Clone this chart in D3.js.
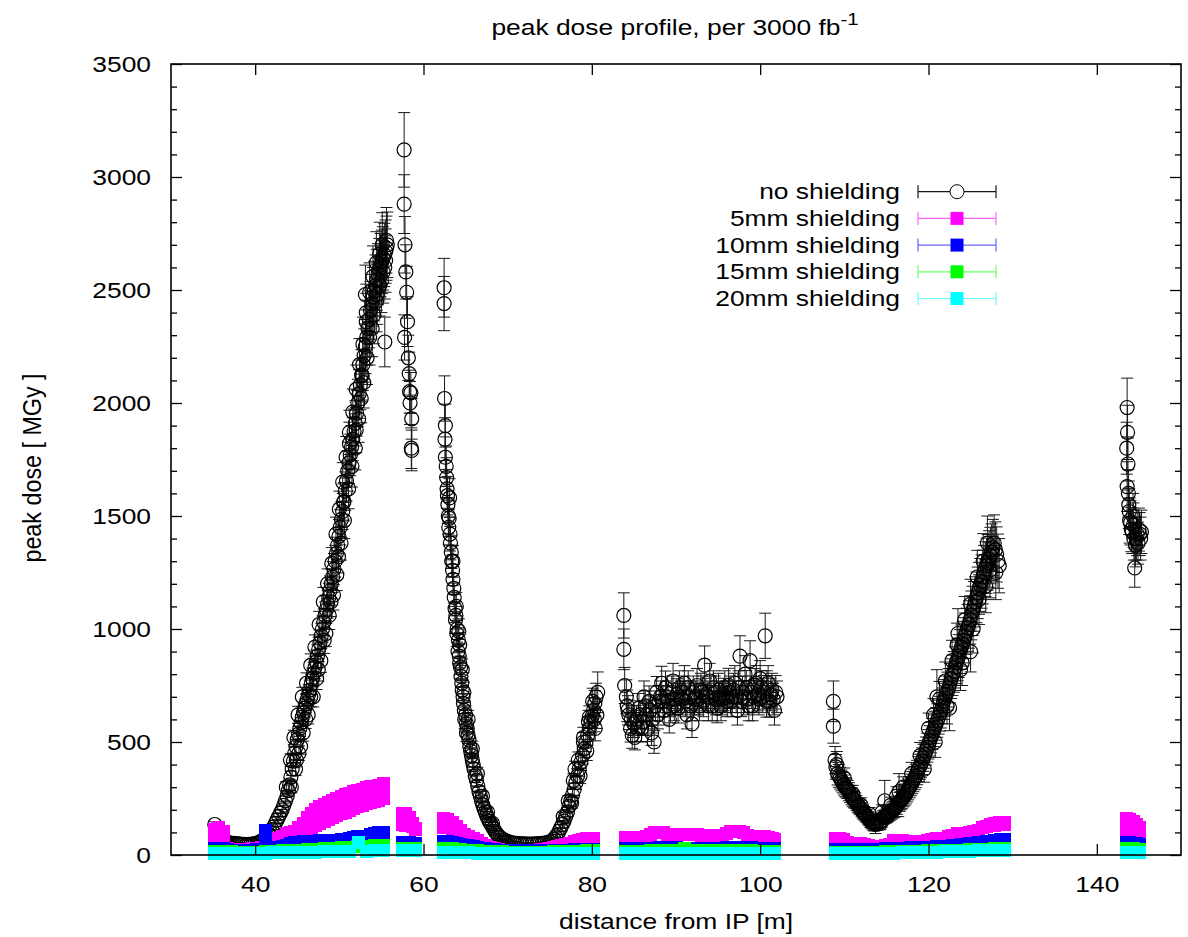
<!DOCTYPE html>
<html><head><meta charset="utf-8">
<script src="https://cdn.jsdelivr.net/npm/d3@7"></script>
<style>
body{margin:0;background:#fff;}
svg{display:block;}
text{font-family:"Liberation Sans",Arial,Helvetica,sans-serif;fill:#000;}
</style>
</head><body>
<svg id="c" width="1188" height="937"></svg>
<script>
// ---------------- data ----------------
const titleText = "peak dose profile, per 3000 fb";
const titleSup = "-1";
const xLabel = "distance from IP [m]";
const yLabel = "peak dose [ MGy ]";
const xTicks = [40, 60, 80, 100, 120, 140];
const yTicks = [0, 500, 1000, 1500, 2000, 2500, 3000, 3500];
const seriesNames = ["no shielding", "5mm shielding", "10mm shielding", "15mm shielding", "20mm shielding"];
const seriesColors = ["#000000", "#ff00ff", "#0000ff", "#00ff00", "#00ffff"];

// no shielding: [distance m, dose MGy, error]
const noShielding = [
[35.2,135,12],[35.6,100,8],[36,75,6],[36.4,62,5],[36.8,55,5],[37.2,52,4],[37.7,50,4],[38.2,48,4],[38.7,47,4],[39.2,47,4],[39.7,48,4],[40.2,52,5],[40.6,58,5],[41,68,6],[41.4,82,8],[41.8,100,10],[42.2,125,12],[42.6,155,14],[43,185,16],[43.4,220,18],[43.8,260,22],[44.1,310,25],[44.4,380,28],[44.7,450,30],[45,510,32],[45.3,560,35],[45.6,610,38],[45.9,650,40],[46.2,690,42],[46.5,730,44],[46.8,780,46],[47.1,830,50],[47.4,880,52],[47.7,940,55],[48,1000,58],[48.3,1060,60],[48.6,1110,62],[48.9,1170,65],[49.2,1230,68],[49.5,1300,70],[49.8,1370,72],[50.1,1450,78],[50.4,1520,80],[50.7,1610,85],[51,1700,90],[51.3,1770,92],[51.6,1840,95],[51.9,1910,100],[52.2,2000,105],[52.5,2080,110],[52.8,2170,115],[53.1,2250,120],[53.4,2330,125],[53.7,2410,128],[54,2470,130],[54.3,2520,135],[54.6,2570,135],[54.9,2610,140],[55.2,2640,140],[55.5,2670,140],[55.7,2700,145],
[44.9,420,30],[45.4,480,34],[46,600,40],[46.6,700,44],[47.5,820,50],[48.2,950,58],[49,1120,65],[49.9,1320,72],[50.5,1560,82],[51.2,1820,95],[52,1880,100],[52.7,2120,115],[53.1,2480,130],[53.2,2360,125],[53.9,2330,125],[54.4,2450,135],[55,2540,140],[55.4,2600,140],[55.6,2720,145],[55.4,2270,110],
[36.2,68,5],[36.6,58,5],[37,53,4],[37.45,51,4],[37.95,49,4],[38.45,47,4],[38.95,46,4],[39.45,47,4],[39.95,50,5],[40.4,55,5],[40.8,63,6],[41.2,75,7],[41.6,90,9],[42,112,11],[42.4,140,13],[42.8,170,15],[43.2,200,17],[43.6,240,20],[43.95,285,24],[44.25,345,26],[44.55,415,29],[44.85,480,31],[45.15,535,34],[45.45,585,36],[45.75,630,39],[46.05,670,41],[46.35,710,43],[46.65,755,45],[46.95,805,48],[47.25,855,51],[47.55,910,54],[47.85,970,56],[48.15,1030,59],[48.45,1085,61],[48.75,1140,63],[49.05,1200,66],[49.35,1265,69],[49.65,1335,71],[49.95,1410,75],[50.25,1485,79],[50.55,1565,83],[50.85,1655,88],[51.15,1735,91],[51.45,1805,94],[51.75,1875,98],[52.05,1955,102],[52.35,2040,108],[52.65,2125,112],[52.95,2210,118],[53.25,2290,122],[53.55,2370,126],[53.85,2440,129],[54.15,2495,132],[54.45,2545,135],[54.75,2590,138],[55.05,2625,140],[55.35,2655,140],[55.6,2685,142],
[44.3,300,25],[44.8,380,28],[45.2,450,32],[45.7,540,36],[46.3,620,40],[46.9,700,45],[47.3,780,48],[47.8,860,52],[48.4,980,58],[48.8,1060,62],[49.3,1150,66],[49.7,1240,70],[50.2,1380,75],[50.6,1480,80],[51.1,1620,88],[51.5,1720,92],[51.9,1800,96],[52.3,1930,104],[52.6,2020,108],[52.9,2090,112],[53.3,2200,118],[53.6,2290,122],[54.1,2390,128],[54.5,2480,132],[54.8,2520,135],[55.2,2580,138],[55.5,2630,140],
[43.7,300,25],[44.2,420,28],[44.6,520,32],[45.1,620,38],[45.6,700,42],[46.1,760,46],[46.6,840,50],[47.1,920,54],[47.6,1020,58],[48.1,1120,64],[48.6,1200,66],[49.1,1290,70],[49.6,1420,75],[50,1530,80],[50.4,1650,86],[50.8,1760,92],[51.2,1870,98],[51.6,1960,102],[52,2060,108],[52.4,2170,115],[52.8,2260,120],[53.2,2400,126],[53.6,2490,130],[54,2560,135],[54.4,2620,138],[54.8,2660,140],[55.1,2700,142],
[57.7,3120,165],[57.7,2880,130],[57.8,2700,125],[57.9,2580,120],[58.0,2490,115],[58.1,2360,110],[57.75,2290,100],[58.2,2200,100],[58.3,2130,95],[58.35,2050,95],[58.4,2000,95],[58.5,2045,90],[58.6,1930,90],[58.55,1800,90],[58.6,1790,90],
[62.45,2510,130],[62.45,2440,120],[62.5,2020,100],[62.55,1840,95],[62.6,1760,90],[62.75,1670,88],[62.85,1590,85],[62.95,1500,80],[63.05,1490,80],[63.15,1420,75],[63.3,1340,72],[63.45,1260,68],[63.6,1180,65],[63.75,1090,62],[63.85,1060,60],[64.0,1000,58],[64.15,950,55],[64.3,850,52],[64.4,830,50],[64.55,760,48],[64.7,700,45],[64.85,640,42],[65.0,620,40],[65.2,560,38],[65.4,510,36],[65.6,460,34],[65.8,420,32],[66.0,380,30],[66.3,330,28],[66.6,280,25],[66.9,240,22],[67.2,205,20],[67.5,175,18],[67.8,150,16],[68.1,130,14],[68.5,105,12],[68.9,85,10],[69.3,72,8],[69.8,62,7],[70.3,56,6],[70.8,52,6],[71.4,50,6],[72,49,6],[72.6,48,6],[73.2,49,6],[73.8,50,6],[74.4,53,7],[75,58,8],[75.5,70,10],[75.9,90,12],[76.3,120,15],[76.7,150,18],[77.1,190,20],[77.5,240,24],[77.9,290,28],[78.3,350,32],[78.7,410,36],[79.1,470,40],[79.5,530,45],[79.9,590,50],[80.2,640,55],[80.5,700,60],[80.7,720,90],
[63.1,1580,85],[64.2,990,55],[64.6,820,48],[65.1,540,38],[78.0,380,35],[79.0,520,45],[79.7,610,50],[80.4,560,55],[80.6,620,60],
[62.6,1900,95],[62.7,1720,90],[62.8,1620,86],[62.9,1550,82],[63.0,1450,78],[63.2,1380,74],[63.35,1300,70],[63.5,1220,66],[63.65,1140,63],[63.8,1040,60],[63.95,980,57],[64.1,900,54],[64.25,880,52],[64.45,790,49],[64.6,730,46],[64.75,670,44],[64.9,600,41],[65.1,580,39],[65.3,530,37],[65.5,480,35],[65.7,440,33],[65.9,400,31],[66.15,350,29],[66.45,305,26],[66.75,260,23],[67.05,222,21],[67.35,190,19],[67.65,162,17],[67.95,140,15],[68.3,118,13],[68.7,95,11],[69.1,78,9],[69.55,67,7],[70.05,59,6],[70.55,54,6],[71.1,51,6],[71.7,49,6],[72.3,48,6],[72.9,48,6],[73.5,49,6],[74.1,51,6],[74.7,55,7],[75.25,63,9],[75.7,80,11],[76.1,105,13],[76.5,135,16],[76.9,170,19],[77.3,215,22],[77.7,265,26],[78.1,320,30],[78.5,380,34],[78.9,440,38],[79.3,500,42],[79.7,560,48],[80.05,615,52],[80.35,670,58],
[63.5,1300,70],[63.9,1100,62],[64.3,930,54],[64.8,720,45],[65.3,600,40],[65.8,470,34],[66.4,360,28],[67,260,22],[67.6,190,18],[68.2,140,14],[76.6,170,18],[77.2,240,22],[77.8,330,30],[78.4,420,36],[79,500,42],[79.6,590,50],[80.1,680,58],[80.3,600,55],[79.4,460,42],[78.6,350,34],[77.6,230,24],
[83.8,1060,100],[83.8,910,90],[83.9,750,80],[84.1,700,75],[84.2,660,70],[84.4,620,65],[84.6,560,60],[84.8,530,58],[85,580,60],[85.3,600,62],[85.6,650,65],[85.9,560,60],[86.2,700,70],[86.5,620,62],[86.8,680,68],[87.1,540,55],[87.4,500,50],[87.7,720,70],[88,680,70],[88.3,760,75],[88.6,640,65],[88.9,700,70],[89.2,600,60],[89.5,720,72],[89.8,660,66],[90.1,710,70],[90.4,740,75],[90.7,690,70],[91,760,78],[91.3,620,62],[91.6,700,70],[91.9,580,60],[92.2,690,70],[92.5,750,75],[92.8,660,66],[93.1,720,72],[93.4,840,85],[93.7,700,70],[94,770,78],[94.3,660,66],[94.6,720,72],[94.9,650,65],[95.2,700,70],[95.5,690,70],[95.8,740,75],[96.1,680,68],[96.4,720,72],[96.7,700,70],[97,760,78],[97.3,640,65],[97.6,880,90],[97.9,720,72],[98.2,800,82],[98.5,690,70],[98.8,860,88],[99.1,660,66],[99.4,750,75],[99.7,710,72],[100,780,80],[100.3,700,70],[100.6,970,100],[100.8,740,75],[101.1,680,70],[101.4,730,74],[101.7,640,65],[102,700,70],
[84.3,640,65],[84.7,600,60],[85.1,520,55],[85.45,560,58],[85.75,620,62],[86.05,590,60],[86.35,660,66],[86.65,560,58],[86.95,640,64],[87.25,600,60],[87.55,660,66],[87.85,620,62],[88.15,700,70],[88.45,680,68],[88.75,740,74],[89.05,680,68],[89.35,650,65],[89.65,770,78],[89.95,690,70],[90.25,650,66],[90.55,700,70],[90.85,720,72],[91.15,680,68],[91.45,740,75],[91.75,660,66],[92.05,720,72],[92.35,700,70],[92.65,690,70],[92.95,730,74],[93.25,680,68],[93.55,710,72],[93.85,660,66],[94.15,720,72],[94.45,740,75],[94.75,690,70],[95.05,730,74],[95.35,660,66],[95.65,710,72],[95.95,700,70],[96.25,750,76],[96.55,680,68],[96.85,730,74],[97.15,700,70],[97.45,740,75],[97.75,680,68],[98.05,700,70],[98.35,740,76],[98.65,660,66],[98.95,720,72],[99.25,700,70],[99.55,760,78],[99.85,690,70],[100.15,740,76],[100.45,720,74],[100.75,680,70],[100.95,760,78],[101.25,710,72],[101.55,690,70],[101.85,720,74],
[108.7,680,90],[108.7,570,75],[108.9,420,60],[109.0,390,55],[109.2,360,50],[109.5,340,48],[109.8,320,45],[110.1,300,42],[110.4,290,40],[110.7,270,38],[111,250,36],[111.3,240,35],[111.6,220,33],[111.9,210,32],[112.2,190,30],[112.5,180,30],[112.8,165,28],[113.1,150,28],[113.4,140,30],[113.7,135,40],[114,150,30],[114.3,140,28],[114.6,165,30],[114.9,170,30],[115.2,180,32],[115.5,190,34],[115.8,200,36],[116.1,210,40],[116.4,230,60],[116.7,240,40],[117,255,42],[117.3,270,44],[117.6,290,46],[117.9,310,48],[118.2,330,50],[118.5,350,52],[118.8,380,55],[119.1,400,58],[119.4,430,60],[119.7,460,62],[120,490,65],[120.3,520,68],[120.6,550,70],[120.9,580,72],[121.2,610,75],[121.5,640,78],[121.8,680,80],[122.1,710,82],[122.4,740,85],[122.7,780,88],[123,810,90],[123.3,850,92],[123.6,880,95],[123.9,920,98],[124.2,950,100],[124.5,990,102],[124.8,1020,105],[125.1,1060,108],[125.4,1100,110],[125.7,1140,112],[126,1180,115],[126.3,1210,118],[126.6,1250,120],[126.9,1280,122],[127.2,1310,125],[127.5,1340,125],[127.8,1380,125],[128.1,1330,122],[128.4,1280,120],
[114.8,240,90],[116.5,280,80],[121.0,700,120],[122.5,650,100],[123.5,980,110],[124.0,850,100],[125.0,900,90],[126.0,1130,110],[127.0,1380,120],
[109.1,400,58],[109.35,350,50],[109.65,330,46],[109.95,310,44],[110.25,295,42],[110.55,280,40],[110.85,260,38],[111.15,245,36],[111.45,230,34],[111.75,215,33],[112.05,200,31],[112.35,185,30],[112.65,172,29],[112.95,158,28],[113.25,145,29],[113.55,138,32],[113.85,142,30],[114.15,145,29],[114.45,152,29],[114.75,168,30],[115.05,175,31],[115.35,185,33],[115.65,195,35],[115.95,205,38],[116.25,220,40],[116.55,235,42],[116.85,248,43],[117.15,262,44],[117.45,280,45],[117.75,300,47],[118.05,320,49],[118.35,340,51],[118.65,365,54],[118.95,390,56],[119.25,415,59],[119.55,445,61],[119.85,475,64],[120.15,505,67],[120.45,535,69],[120.75,565,71],[121.05,595,74],[121.35,625,77],[121.65,660,79],[121.95,695,81],[122.25,725,84],[122.55,760,87],[122.85,795,89],[123.15,830,91],[123.45,865,94],[123.75,900,97],[124.05,935,99],[124.35,970,101],[124.65,1005,104],[124.95,1040,107],[125.25,1080,109],[125.55,1120,111],[125.85,1160,114],[126.15,1195,117],[126.45,1230,119],[126.75,1265,121],[127.05,1295,123],[127.35,1325,125],[127.65,1360,125],[127.95,1350,124],[128.25,1300,120],
[110,340,45],[111,270,38],[112,220,33],[113,180,30],[114.5,190,32],[115.5,220,36],[116.2,260,42],[117,300,46],[118,360,50],[119,440,58],[120,560,68],[120.6,620,72],[121.3,690,78],[122,770,84],[122.8,860,90],[123.4,930,96],[124.3,1040,104],[125,1110,110],[125.8,1230,118],[126.5,1300,122],[127.3,1260,122],[128,1250,120],[119.5,380,58],[120.8,500,68],[122.2,660,80],[123.8,820,92],[125.3,1000,106],[126.8,1190,118],
[143.6,1980,130],[143.65,1870,120],[143.7,1730,115],[143.6,1630,110],[143.8,1550,105],[143.9,1480,100],[144.1,1440,98],[144.3,1500,100],[144.4,1400,95],[144.6,1370,95],[144.5,1270,85],[144.8,1420,95],[145.0,1440,95],[145.2,1400,95],
[143.55,1800,115],[143.75,1600,105],[143.85,1520,102],[144.0,1470,98],[144.2,1430,96],[144.35,1460,98],[144.7,1400,95],[144.9,1380,93],[145.1,1420,95],[145.3,1430,96]
];

// 5mm shielding: [distance, dose, error]
const shield5 = [
[35.2,100,15],[35.7,105,15],[36.2,95,10],[36.7,30],[37.2,26],[37.7,25],[38.2,25],[38.7,25],[39.2,25],[39.7,27],[40.2,29],[40.7,34],[41.2,44],[41.7,58],[42.2,68],[42.7,75],[43.2,84],[43.7,94],[44.2,100],[44.7,106],[45.2,114,8],[45.7,126,14],[46.2,140,24],[46.7,152,30],[47.2,165,36],[47.7,176,38],[48.2,186,38],[48.7,195,38],[49.2,203,38],[49.7,212,38],[50.2,220,38],[50.7,228,38],[51.2,236,38],[51.7,242,37],[52.2,250,36],[52.7,256,35],[53.2,262,35],[53.7,267,35],[54.2,271,34],[54.7,276,33],[55.2,284,33],
[57.5,160,25],[57.9,157,25],[58.3,148,18],[58.7,132,8],[59.05,116,2],
[62.4,140,20],[62.9,138,18],[63.4,130,15],[63.9,118,10],[64.4,104,5],[64.9,92],[65.4,82],[65.9,72],[66.4,62],[66.9,52],[67.4,43],[67.9,35],[68.4,29],[68.9,25],[69.4,22],[69.9,21],[70.4,20],[70.9,20],[71.4,20],[71.9,20],[72.4,20],[72.9,21],[73.4,22],[73.9,24],[74.4,26],[74.9,29],[75.4,33],[75.9,37],[76.4,42],[76.9,47],[77.4,53],[77.9,60],[78.4,66],[78.9,70],[79.4,72],[79.9,72],[80.2,72],
[84.0,77],[84.5,77],[85,78],[85.5,78],[86,78],[86.5,82],[87,90],[87.5,99],[88,99],[88.5,98],[89,92],[89.5,91],[90,91],[90.5,90],[91,91],[91.5,90],[92,90],[92.5,89],[93,88],[93.5,88],[94,87],[94.5,87],[95,86],[95.5,88],[96,96],[96.5,104],[97,104],[97.5,103],[98,98],[98.5,88],[99,84],[99.5,82],[100,80],[100.5,80],[101,77],[101.5,73],[101.7,70],
[108.9,73],[109.4,73],[109.9,70],[110.4,55],[110.9,52],[111.4,51],[111.9,50],[112.4,48],[112.9,42],[113.4,37],[113.9,37],[114.4,38],[114.9,40],[115.4,48],[115.9,62],[116.4,64],[116.9,63],[117.4,60],[117.9,58],[118.4,58],[118.9,59],[119.4,60],[119.9,63],[120.4,68],[120.9,72],[121.4,73],[121.9,75],[122.4,80],[122.9,88],[123.4,93],[123.9,95],[124.4,97],[124.9,98],[125.4,102],[125.9,110],[126.4,120],[126.9,127],[127.4,132,3],[127.9,136,5],[128.4,140,5],[129.0,138,5],
[143.5,137,25],[143.9,135,23],[144.3,128,19],[144.7,120,14],[145.05,113,9]
];

// 10mm shielding
const shield10 = [
[35.2,30],[35.7,30],[36.2,28],[36.7,25],[37.2,22],[37.7,20],[38.2,20],[38.7,20],[39.2,20],[39.7,21],[40.2,23],[40.7,26],[41.2,60,50],[41.7,30],[42.2,33],[42.7,35],[43.2,38],[43.7,43],[44.2,49],[44.7,54],[45.2,56],[45.7,58],[46.2,59],[46.7,60],[47.2,61],[47.7,62],[48.2,63],[48.7,64],[49.2,65],[49.7,66],[50.2,67],[50.7,70],[51.2,75],[51.7,79],[52.2,80],[52.7,81],[53.2,80],[53.7,90],[54.2,97],[54.7,99],[55.2,98],
[57.5,55],[57.9,55],[58.3,55],[58.7,53],[59.05,52],
[62.4,60],[62.9,59],[63.4,56],[63.9,52],[64.4,48],[64.9,44],[65.4,40],[65.9,36],[66.4,33],[66.9,30],[67.4,28],[67.9,26],[68.4,24],[68.9,22],[69.4,21],[69.9,20],[70.9,19],[71.9,18],[72.9,18],[73.9,19],[74.9,20],[75.9,21],[76.9,22],[77.9,24],[78.9,25],[79.9,25],[80.2,25],
[84.0,29],[85,29],[86,30],[87,30],[88,31],[89,31],[90,31],[91,30],[92,30],[93,30],[94,30],[95,30],[96,31],[97,32],[98,31],[99,31],[100,30],[101,29],[101.7,29],
[108.9,24],[109.9,24],[110.9,24],[111.9,25],[112.9,25],[113.9,26],[114.9,27],[115.9,28],[116.9,30],[117.9,31],[118.9,33],[119.9,35],[120.9,37],[121.9,39],[122.9,42],[123.9,46],[124.9,50],[125.9,55],[126.9,60],[127.9,65],[128.5,67],[129.0,68],
[143.5,55],[143.9,55],[144.3,53],[144.7,50],[145.05,48]
];

// 15mm shielding
const shield15 = [
[35.2,15],[36.2,15],[37.2,14],[38.2,13],[39.2,13],[40.2,13],[41.2,14],[42.2,16],[43.2,18],[44.2,20],[45.2,22],[46.2,24],[47.2,26],[48.2,28],[49.2,30],[50.2,32],[51.2,34],[52.2,36],[53.2,39],[54.2,41],[55.2,42],
[57.5,30],[58.3,29],[59.05,28],
[62.4,30],[63.4,28],[64.4,25],[65.4,22],[66.4,19],[67.4,17],[68.4,15],[69.4,14],[70.4,13],[71.4,12],[72.4,12],[73.4,12],[74.4,13],[75.4,14],[76.4,15],[77.4,16],[78.4,17],[79.4,18],[80.2,18],
[84.0,17],[85,17],[86,17],[87,18],[88,18],[89,18],[90,18],[91,29],[92,18],[93,18],[94,18],[95,18],[96,18],[97,18],[98,18],[99,18],[100,17],[101,17],[101.7,17],
[108.9,12],[109.9,12],[110.9,12],[111.9,12],[112.9,13],[113.9,13],[114.9,14],[115.9,14],[116.9,15],[117.9,16],[118.9,17],[119.9,18],[120.9,19],[121.9,20],[122.9,21],[123.9,22],[124.9,24],[125.9,25],[126.9,26],[127.9,28],[129.0,29],
[143.5,29],[144.3,28],[145.05,26]
];

// 20mm shielding
const shield20 = [
[35.2,8],[36.2,8],[37.2,7],[38.2,7],[39.2,7],[40.2,8],[41.2,8],[42.2,9],[43.2,10],[44.2,11],[45.2,12],[46.2,13],[47.2,13],[48.2,14],[49.2,14],[50.2,15],[51.2,15],[52.3,55],[53.2,17],[54.2,18],[55.2,18],
[57.5,22],[58.3,22],[59.05,21],
[62.4,12],[63.4,11],[64.4,10],[65.4,9],[66.4,8],[67.4,7],[68.4,6],[69.4,6],[70.4,6],[71.4,6],[72.4,6],[73.4,6],[74.4,6],[75.4,6],[76.4,6],[77.4,6],[78.4,6],[79.4,6],[80.2,6],
[84.0,7],[85,7],[86,7],[87,7],[88,7],[89,7],[90,7],[91,7],[92,7],[93,7],[94,7],[95,7],[96,7],[97,7],[98,7],[99,7],[100,7],[101,6],[101.7,6],
[108.9,6],[109.9,6],[110.9,6],[111.9,7],[112.9,7],[113.9,7],[114.9,8],[115.9,8],[116.9,9],[117.9,10],[118.9,11],[119.9,12],[120.9,13],[121.9,14],[122.9,15],[123.9,16],[124.9,17],[125.9,18],[126.9,19],[127.9,20],[129.0,20],
[143.5,13],[144.3,13],[145.05,12]
];

// ---------------- drawing ----------------
const FS = 22, SX = 1.2;
const svg = d3.select("#c");
const x = d3.scaleLinear().domain([30, 150]).range([171, 1181]);
const y = d3.scaleLinear().domain([0, 3500]).range([855, 64]);
const err = d => d[2] || 0;

// black series: error bars + open circles
const gB = svg.append("g");
const eb = gB.append("g").attr("stroke", "#000").attr("stroke-width", 1).attr("opacity", 0.9);
eb.selectAll("line.v").data(noShielding).join("line").attr("class","v")
  .attr("x1", d => x(d[0])).attr("x2", d => x(d[0]))
  .attr("y1", d => y(d[1] - err(d))).attr("y2", d => y(d[1] + err(d)));
eb.selectAll("line.t").data(noShielding).join("line").attr("class","t")
  .attr("x1", d => x(d[0]) - 6).attr("x2", d => x(d[0]) + 6)
  .attr("y1", d => y(d[1] + err(d))).attr("y2", d => y(d[1] + err(d)));
eb.selectAll("line.b").data(noShielding).join("line").attr("class","b")
  .attr("x1", d => x(d[0]) - 6).attr("x2", d => x(d[0]) + 6)
  .attr("y1", d => y(d[1] - err(d))).attr("y2", d => y(d[1] - err(d)));
gB.append("g").selectAll("circle").data(noShielding).join("circle")
  .attr("cx", d => x(d[0])).attr("cy", d => y(d[1])).attr("r", 7)
  .attr("fill", "none").attr("stroke", "#000").attr("stroke-width", 1.2);

// shielded series: filled squares with error extent
[shield5, shield10, shield15, shield20].forEach((data, i) => {
  svg.append("g").attr("fill", seriesColors[i + 1]).attr("shape-rendering", "crispEdges")
    .selectAll("rect").data(data).join("rect")
    .attr("x", d => x(d[0]) - 6.5).attr("width", 13)
    .attr("y", d => y(d[1] + err(d)) - 6.5)
    .attr("height", d => y(d[1] - err(d)) - y(d[1] + err(d)) + 13);
});

// axes (ticks inward, mirrored)
function styleAxis(g) {
  g.select(".domain").remove();
  g.selectAll(".tick line").attr("stroke", "#000").attr("stroke-width", 1.3);
}
const minorY = d3.range(0, 3501, 100).filter(v => v % 500 !== 0);
svg.append("g").attr("transform", "translate(171,0)")
  .call(d3.axisLeft(y).tickValues(minorY).tickSize(-6).tickFormat(""))
  .call(styleAxis);
svg.append("g").attr("transform", "translate(1181,0)")
  .call(d3.axisRight(y).tickValues(minorY).tickSize(-6).tickFormat(""))
  .call(styleAxis);
svg.append("g").attr("transform", "translate(1181,0)")
  .call(d3.axisRight(y).tickValues(yTicks).tickSize(-11).tickFormat(""))
  .call(styleAxis);
const yAx = svg.append("g").attr("transform", "translate(171,0)")
  .call(d3.axisLeft(y).tickValues(yTicks).tickSize(-11).tickPadding(21).tickFormat(d3.format("d")))
  .call(styleAxis);
yAx.selectAll("text").attr("font-size", FS).attr("font-family", null)
  .attr("x", null).attr("dy", "0.36em").attr("transform", `translate(-20,0) scale(${SX},1)`);
const xAx = svg.append("g").attr("transform", "translate(0,855)")
  .call(d3.axisBottom(x).tickValues(xTicks).tickSize(-11).tickPadding(20).tickFormat(d3.format("d")))
  .call(styleAxis);
xAx.selectAll("text").attr("font-size", FS).attr("font-family", null)
  .attr("y", null).attr("dy", null).attr("transform", `translate(0,37) scale(${SX},1)`);
svg.append("g").attr("transform", "translate(0,64)")
  .call(d3.axisTop(x).tickValues(xTicks).tickSize(-11).tickFormat(""))
  .call(styleAxis);

// frame
svg.append("rect").attr("x", 171).attr("y", 64).attr("width", 1010).attr("height", 791)
  .attr("fill", "none").attr("stroke", "#000").attr("stroke-width", 1.6);

// title
const t = svg.append("text").attr("text-anchor", "middle").attr("font-size", FS)
  .attr("transform", `translate(675,35) scale(${SX},1)`);
t.append("tspan").text(titleText);
t.append("tspan").attr("dy", -10).attr("font-size", 17).text(titleSup);

// axis labels
svg.append("text").attr("text-anchor", "middle").attr("font-size", FS)
  .attr("transform", `translate(676,929) scale(${SX},1)`).text(xLabel);
svg.append("text").attr("text-anchor", "middle").attr("font-size", FS)
  .attr("transform", `translate(41,468) rotate(-90) scale(1.06,1.2)`).text(yLabel);

// legend
const lg = svg.append("g");
seriesNames.forEach((name, i) => {
  const cy = 191.7 + i * 26.7;
  lg.append("text").attr("text-anchor", "end").attr("font-size", FS)
    .attr("transform", `translate(900,${cy + 7.6}) scale(${SX},1)`).text(name);
  const c = seriesColors[i];
  const ln = lg.append("g").attr("stroke", c).attr("stroke-width", 1.2).attr("opacity", i === 0 ? 0.9 : 0.6);
  ln.append("line").attr("x1", 918).attr("x2", 996).attr("y1", cy).attr("y2", cy);
  ln.append("line").attr("x1", 918).attr("x2", 918).attr("y1", cy - 6.5).attr("y2", cy + 6.5);
  ln.append("line").attr("x1", 996).attr("x2", 996).attr("y1", cy - 6.5).attr("y2", cy + 6.5);
  if (i === 0) {
    lg.append("circle").attr("cx", 957).attr("cy", cy).attr("r", 7)
      .attr("fill", "#fff").attr("stroke", "#000").attr("stroke-width", 1);
  } else {
    lg.append("rect").attr("x", 950.5).attr("y", cy - 6.5).attr("width", 13).attr("height", 13)
      .attr("fill", c);
  }
});
</script>
</body></html>
